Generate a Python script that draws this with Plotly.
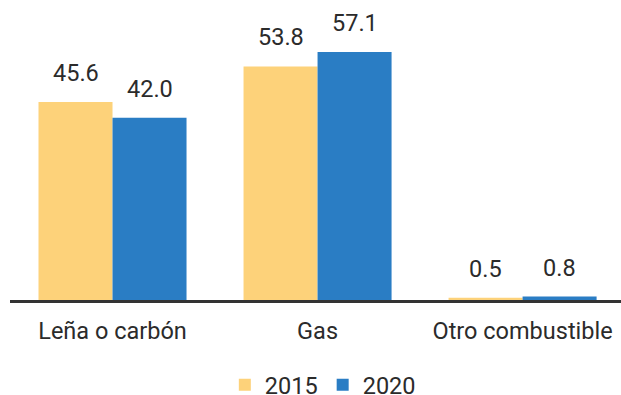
import plotly.graph_objects as go

# Fuel used for cooking, share of households (%)
categories = ["Leña o carbón", "Gas", "Otro combustible"]
years = ["2015", "2020"]
values_2015 = [45.6, 53.8, 0.5]
values_2020 = [42.0, 57.1, 0.8]

colors = {"2015": "#FDD27A", "2020": "#2A7DC4"}
font_family = "Roboto, 'Open Sans', sans-serif"
text_color = "#2b2b2b"
font_size = 23.5

fig = go.Figure()
series = {"2015": values_2015, "2020": values_2020}
for year in years:
    fig.add_trace(go.Bar(
        name=year,
        x=categories,
        y=series[year],
        marker=dict(color=colors[year], line=dict(width=0)),
    ))

# Value labels above each bar, offset to the bar's slot in the group
PLOT_W = 611
cat_px = PLOT_W / 2.98
bar_px = cat_px * (1 - 0.278) / 2
annotations = []
for i, year in enumerate(years):
    shift = (i - 0.5) * bar_px
    for cat, v in zip(categories, series[year]):
        annotations.append(dict(
            x=cat, y=v, xref="x", yref="y",
            text=f"{v:.1f}", showarrow=False,
            xanchor="center", yanchor="bottom",
            xshift=shift, yshift=13,
            font=dict(family=font_family, size=font_size, color=text_color),
        ))

fig.update_layout(
    width=621, height=395,
    margin=dict(l=10, r=0, t=0, b=95, autoexpand=False),
    paper_bgcolor="white", plot_bgcolor="white",
    barmode="group", bargap=0.278, bargroupgap=0,
    font=dict(family=font_family, size=font_size, color=text_color),
    showlegend=True,
    legend=dict(
        orientation="h", x=0.512, xanchor="center",
        y=-0.21, yanchor="top",
        font=dict(family=font_family, size=font_size, color=text_color),
        itemwidth=30, tracegroupgap=0,
    ),
    annotations=annotations,
)
fig.update_xaxes(
    range=[-0.5, 2.48],
    showline=True, linecolor="#333333", linewidth=3,
    ticks="", showgrid=False, zeroline=False,
    ticklabelstandoff=8,
    tickfont=dict(family=font_family, size=font_size, color=text_color),
)
fig.update_yaxes(
    range=[0, 69.1], visible=False, showgrid=False, zeroline=False,
)

fig.write_html("out.html")
